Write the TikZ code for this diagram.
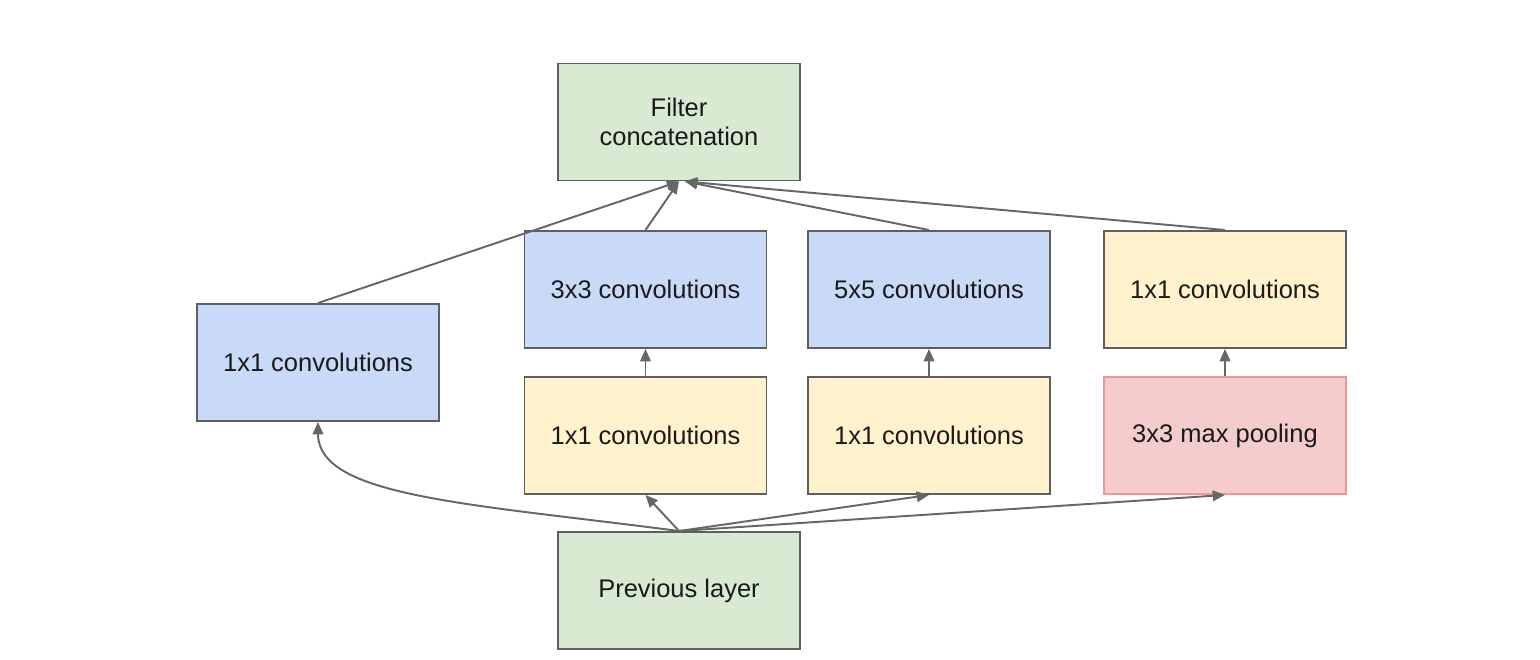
\documentclass[tikz,border=0pt]{standalone}
\usepackage{fontspec}
\setmainfont{Liberation Sans}
\usetikzlibrary{arrows.meta}
\definecolor{boxgreen}{HTML}{D9EAD3}
\definecolor{boxblue}{HTML}{C9DAF8}
\definecolor{boxyellow}{HTML}{FFF2CC}
\definecolor{boxpink}{HTML}{F4CCCC}
\definecolor{pinkedge}{HTML}{EA9999}
\definecolor{edgegray}{HTML}{5F5F5F}
\definecolor{linkgray}{HTML}{666666}
\definecolor{textdark}{HTML}{1A1A1A}
\begin{document}
\begin{tikzpicture}[
  layer/.style={draw=edgegray, line width=1.1pt, minimum width=4.84cm,
    minimum height=2.34cm, inner sep=0pt, align=center, text=textdark,
    font=\fontsize{14.5}{16.5}\selectfont},
  greenbox/.style={layer, fill=boxgreen},
  bluebox/.style={layer, fill=boxblue},
  yellowbox/.style={layer, fill=boxyellow},
  pinkbox/.style={layer, fill=boxpink, draw=pinkedge},
  link/.style={draw=linkgray, line width=1.1pt,
    -{Triangle[length=7pt, width=6pt]}}
]
\useasboundingbox (0,0) rectangle (30.8,13.2);

\node[greenbox]  (concat) at (13.58,10.76) {Filter\\concatenation};
\node[bluebox]   (left)   at (6.36,5.95)   {1x1 convolutions};
\node[bluebox]   (c3)     at (12.91,7.41)  {3x3 convolutions};
\node[bluebox]   (c5)     at (18.58,7.41)  {5x5 convolutions};
\node[yellowbox] (pr)     at (24.50,7.41)  {1x1 convolutions};
\node[yellowbox] (r3)     at (12.91,4.49)  {1x1 convolutions};
\node[yellowbox] (r5)     at (18.58,4.49)  {1x1 convolutions};
\node[pinkbox]   (pool)   at (24.50,4.49)  {3x3 max pooling};
\node[greenbox]  (prev)   at (13.58,1.39)  {Previous layer};

% inputs fanning out of the previous layer
\draw[link] (prev.north) .. controls +(-4.2,0.55) and +(0,-1.5) .. (left.south);
\draw[link] (prev.north) -- (r3.south);
\draw[link] (prev.north) -- (r5.south);
\draw[link] (prev.north) -- (pool.south);

% reductions feeding the larger filters
\draw[link] (r3.north) -- (c3.south);
\draw[link] (r5.north) -- (c5.south);
\draw[link] (pool.north) -- (pr.south);

% all branches joined in the concatenation
\draw[link] (left.north) -- (concat.south);
\draw[link] (c3.north) -- (concat.south);
\draw[link] (c5.north) -- ([xshift=0.12cm]concat.south);
\draw[link] (pr.north) -- ([xshift=0.12cm]concat.south);
\end{tikzpicture}
\end{document}
